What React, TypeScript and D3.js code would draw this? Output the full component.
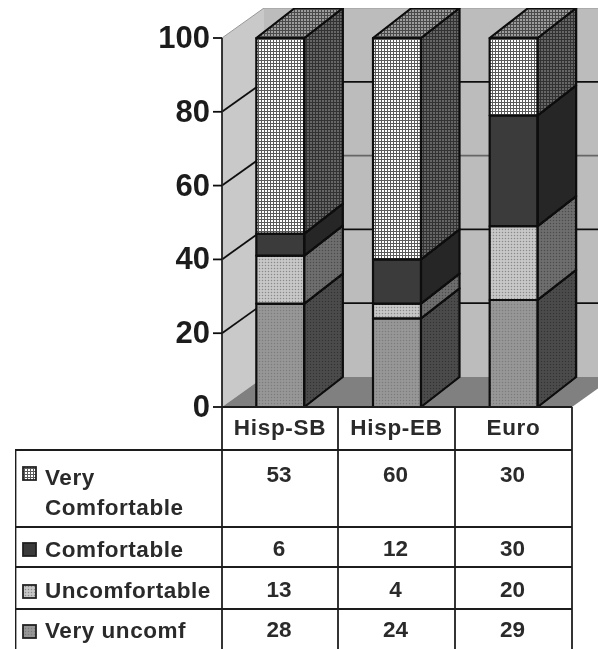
import React from "react";
import * as d3 from "d3";

const categories = ["Hisp-SB", "Hisp-EB", "Euro"];
const seriesNames = ["Very uncomf", "Uncomfortable", "Comfortable", "Very Comfortable"];
const veryUncomf = [28, 24, 29];
const uncomfortable = [13, 4, 20];
const comfortable = [6, 12, 30];
const veryComfortable = [53, 60, 30];
const yTicks = [0, 20, 40, 60, 80, 100];
const gridColors: Record<number, string> = { 20: "#111", 40: "#111", 60: "#666", 80: "#111", 100: "#999" };

const dataSeries = [veryUncomf, uncomfortable, comfortable, veryComfortable];
const rows = categories.map((c, i) => {
  const r: Record<string, number | string> = { c };
  seriesNames.forEach((s, k) => (r[s] = dataSeries[k][i]));
  return r;
});

const W = 598, H = 649;
const DX = 42, DY = -30, BDX = 38.5;
const x = d3.scaleBand<string>().domain(categories).range([222, 572]);
const y = d3.scaleLinear().domain([0, 100]).range([407, 38]).clamp(true);
const barW = 48;
const stacked = d3.stack<any>().keys(seriesNames)(rows as any);

const fronts = ["url(#fVU)", "url(#fU)", "#3b3b3b", "url(#fVC)"];
const sides = ["url(#sVU)", "url(#sU)", "#262626", "url(#sVC)"];

const tableX = [15, 222, 338, 455, 572];
const tableY = [450, 527, 567, 609, 649];
const legendRows = [
  { lines: ["Very", "Comfortable"], k: 3, swatch: "url(#fVC)", sy: 467, ty: [485, 515], vy: 482 },
  { lines: ["Comfortable"], k: 2, swatch: "#3b3b3b", sy: 543, ty: [557], vy: 556 },
  { lines: ["Uncomfortable"], k: 1, swatch: "url(#fU)", sy: 585, ty: [598], vy: 597 },
  { lines: ["Very uncomf"], k: 0, swatch: "url(#fVU)", sy: 625, ty: [638], vy: 637 },
];

const dots = (id: string, bg: string, fg: string, s = 3, r = 0.75) => (
  <pattern id={id} width={s} height={s} patternUnits="userSpaceOnUse">
    <rect width={s} height={s} fill={bg} />
    <circle cx={s / 2} cy={s / 2} r={r} fill={fg} />
  </pattern>
);
const grid = (id: string, bg: string, fg: string, s = 3) => (
  <pattern id={id} width={s} height={s} patternUnits="userSpaceOnUse">
    <rect width={s} height={s} fill={bg} />
    <path d={`M0 0.5H${s}M0.5 0V${s}`} stroke={fg} strokeWidth={1} />
  </pattern>
);

export default function App() {
  const font = "'Liberation Sans', Arial, sans-serif";
  const tableText = { fontFamily: font, fontSize: 22.5, fontWeight: 700, fill: "#2a2a2a" } as const;
  return (
    <svg width={W} height={H} style={{ position: "absolute", left: 0, top: 0, background: "#fff" }}>
      <defs>
        {grid("fVC", "#ffffff", "#5a5a5a")}
        {grid("sVC", "#666666", "#333333")}
        {grid("tVC", "#9c9c9c", "#4a4a4a")}
        {dots("fU", "#c8c8c8", "#8a8a8a")}
        {dots("sU", "#6e6e6e", "#4c4c4c")}
        {dots("fVU", "#979797", "#7b7b7b")}
        {dots("sVU", "#4c4c4c", "#333333")}
        <filter id="soft" x="0" y="0" width="100%" height="100%">
          <feGaussianBlur stdDeviation="0.65" />
        </filter>
      </defs>
      <g filter="url(#soft)">
        {/* walls and floor */}
        <polygon points={`222,${y(100)} 222,${y(0)} ${222 + DX},${y(0) + DY} ${222 + DX},${y(100) + DY}`} fill="#c9c9c9" />
        <rect x={222 + DX} y={y(100) + DY} width={W - 222 - DX} height={y(0) - y(100)} fill="#bcbcbc" />
        <polygon points={`222,${y(0)} 572,${y(0)} ${572 + DX},${y(0) + DY} ${222 + DX},${y(0) + DY}`} fill="#808080" />
        {yTicks.filter((t) => t > 0).map((t) => (
          <g key={t} fill="none" strokeWidth={t === 100 ? 1 : 1.8}>
            <line x1={222} y1={y(t)} x2={222 + DX} y2={y(t) + DY} stroke={t === 100 ? "#999" : "#111"} />
            <line x1={222 + DX} y1={y(t) + DY} x2={W} y2={y(t) + DY} stroke={gridColors[t]} />
          </g>
        ))}
        {/* bars */}
        {categories.map((c, i) => {
          const x0 = x(c)! + x.bandwidth() / 2 - barW / 2;
          const x1 = x0 + barW;
          return (
            <g key={c} stroke="#0a0a0a" strokeWidth={2.2} strokeLinejoin="round">
              {stacked.map((s, k) => {
                const yb = y(s[i][0]);
                const yt = y(s[i][1]);
                return (
                  <g key={k}>
                    <rect x={x0} y={yt} width={barW} height={yb - yt} fill={fronts[k]} />
                    <polygon points={`${x1},${yb} ${x1 + BDX},${yb + DY} ${x1 + BDX},${yt + DY} ${x1},${yt}`} fill={sides[k]} />
                  </g>
                );
              })}
              <polygon points={`${x0},${y(100)} ${x1},${y(100)} ${x1 + BDX},${y(100) + DY} ${x0 + BDX},${y(100) + DY}`} fill="url(#tVC)" />
            </g>
          );
        })}
        {/* axis */}
        <line x1={222} y1={y(100)} x2={222} y2={y(0)} stroke="#222" strokeWidth={1.8} />
        {yTicks.map((t) => (
          <g key={t}>
            <line x1={213} y1={y(t)} x2={222} y2={y(t)} stroke="#111" strokeWidth={1.8} />
            <text x={210} y={y(t) + 10} textAnchor="end" fontFamily={font} fontSize={31} fontWeight={700} fill="#1c1c1c">{t}</text>
          </g>
        ))}
        {/* data table */}
        <g stroke="#1c1c1c" strokeWidth={1.8} fill="none">
          <line x1={222} y1={y(0)} x2={572} y2={y(0)} />
          {tableY.slice(0, 4).map((ty) => <line key={ty} x1={15} y1={ty} x2={572} y2={ty} />)}
          <line x1={222} y1={y(0)} x2={222} y2={H} />
          <line x1={338} y1={y(0)} x2={338} y2={H} />
          <line x1={455} y1={y(0)} x2={455} y2={H} />
          <line x1={572} y1={y(0)} x2={572} y2={H} />
          <line x1={15} y1={450} x2={15} y2={H} strokeWidth={2.8} />
        </g>
        {categories.map((c, i) => (
          <text key={c} x={(tableX[i + 1] + tableX[i + 2]) / 2} y={435} textAnchor="middle" {...tableText} letterSpacing={0.7}>{c}</text>
        ))}
        {legendRows.map((r, ri) => (
          <g key={ri}>
            <rect x={23} y={r.sy} width={13} height={13} fill={r.swatch} stroke="#222" strokeWidth={1.8} />
            {r.lines.map((l, li) => (
              <text key={l} x={45} y={r.ty[li]} {...tableText} letterSpacing={0.55}>{l}</text>
            ))}
            {categories.map((c, i) => (
              <text key={c} x={(tableX[i + 1] + tableX[i + 2]) / 2 - 1} y={r.vy} textAnchor="middle" {...tableText}>{dataSeries[r.k][i]}</text>
            ))}
          </g>
        ))}
      </g>
    </svg>
  );
}
